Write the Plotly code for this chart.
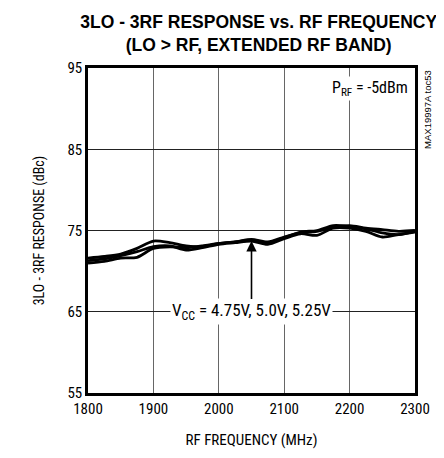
import plotly.graph_objects as go

freq = [1800, 1825, 1850, 1875, 1900, 1925, 1950, 1975, 2000, 2025, 2050,
        2075, 2100, 2125, 2150, 2175, 2200, 2225, 2250, 2275, 2300]
vcc_475 = [71.6, 71.8, 72.1, 72.8, 73.7, 73.5, 73.1, 73.0, 73.4, 73.6, 73.8,
           73.5, 74.1, 74.8, 75.0, 75.6, 75.5, 75.2, 74.7, 74.5, 74.9]
vcc_500 = [71.3, 71.5, 71.9, 72.4, 73.0, 73.1, 72.6, 72.9, 73.3, 73.5, 73.7,
           73.3, 74.0, 74.6, 74.4, 75.3, 75.3, 74.9, 74.2, 74.5, 74.8]
vcc_525 = [71.0, 71.2, 71.6, 71.7, 72.8, 73.0, 72.9, 73.1, 73.4, 73.6, 73.9,
           73.6, 74.2, 74.7, 74.9, 75.4, 75.6, 75.3, 75.1, 74.9, 75.0]
x_ticks = [1800, 1900, 2000, 2100, 2200, 2300]
y_ticks = [55, 65, 75, 85, 95]

FONT = "Liberation Sans Narrow, Arial Narrow, Roboto Condensed, Liberation Sans, Arial"

fig = go.Figure()
for ys in (vcc_475, vcc_500, vcc_525):
    fig.add_trace(go.Scatter(x=freq, y=ys, mode="lines",
                             line=dict(color="black", width=2.8, shape="spline", smoothing=0.8),
                             showlegend=False, hoverinfo="skip"))

fig.update_layout(
    width=436, height=450,
    margin=dict(l=80, r=29, t=60, b=61),
    paper_bgcolor="white", plot_bgcolor="white",
    font=dict(family=FONT, size=15, color="black"),
    title=dict(text="<b>3LO - 3RF RESPONSE vs. RF FREQUENCY<br>(LO > RF, EXTENDED RF BAND)</b>",
               x=0.575, xanchor="center", yref="container", y=0.955, yanchor="top",
               font=dict(family="Liberation Sans, Arial", size=17.5, color="black")),
    xaxis=dict(range=[1800, 2300], tickvals=x_ticks, ticks="", showgrid=True,
               gridcolor="#666", gridwidth=1, zeroline=False,
               showline=True, linecolor="black", linewidth=2.5, mirror=True,
               title=dict(text="RF FREQUENCY (MHz)", standoff=18, font=dict(size=15)),
               tickfont=dict(size=15)),
    yaxis=dict(range=[55, 95], tickvals=y_ticks, ticks="", showgrid=True,
               gridcolor="#222", gridwidth=1, zeroline=False,
               showline=True, linecolor="black", linewidth=2.5, mirror=True,
               title=dict(text="3LO - 3RF RESPONSE (dBc)", standoff=20, font=dict(size=14)),
               tickfont=dict(size=15)),
)

fig.add_annotation(x=2050, y=65, xref="x", yref="y",
                   text="V<sub>CC</sub> = 4.75V, 5.0V, 5.25V", showarrow=False,
                   bgcolor="white", font=dict(size=17), borderpad=1)
fig.add_annotation(x=2050, y=73.7, ax=2050, ay=66.4, axref="x", ayref="y",
                   xref="x", yref="y", text="", showarrow=True,
                   arrowhead=2, arrowsize=1.3, arrowwidth=1.6, arrowcolor="black")
fig.add_annotation(x=0.985, y=0.975, xref="paper", yref="paper", xanchor="right", yanchor="top",
                   text="P<sub>RF</sub> = -5dBm", showarrow=False, bgcolor="white",
                   font=dict(size=16), borderpad=1)
fig.add_annotation(x=1.038, y=1.0, xref="paper", yref="paper", xanchor="center", yanchor="top",
                   text="MAX19997A toc53", showarrow=False, textangle=-90,
                   font=dict(family="Liberation Sans Narrow, Arial", size=9.5))

fig.write_html("out.html")
